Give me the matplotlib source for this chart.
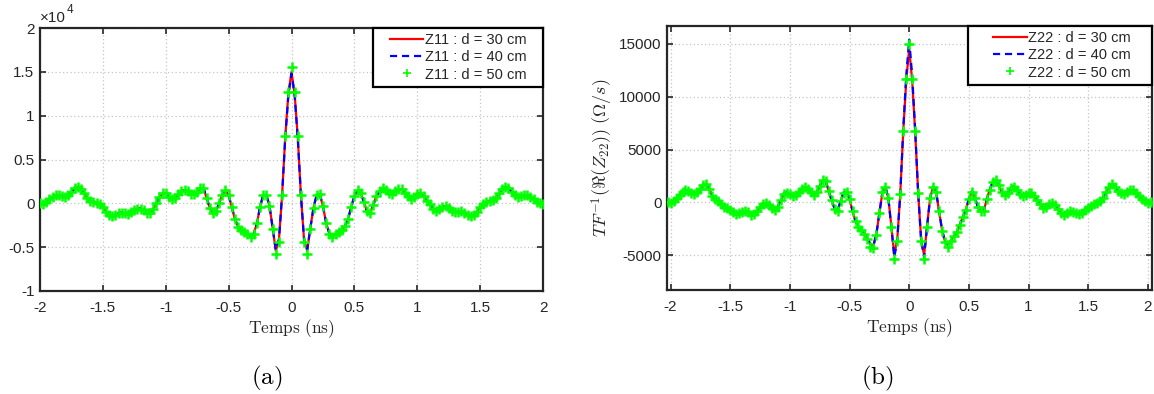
import numpy as np
import matplotlib
matplotlib.use("Agg")
import matplotlib.pyplot as plt
from matplotlib.ticker import FixedLocator, FuncFormatter
from matplotlib.legend_handler import HandlerLine2D
from matplotlib.lines import Line2D

plt.rcParams['font.family'] = ['Liberation Sans', 'DejaVu Sans']
plt.rcParams['mathtext.fontset'] = 'cm'
plt.rcParams['axes.unicode_minus'] = False

# ---------------- data ----------------
# panel (a): time grid -2 .. 2 ns, step 0.025 ns (161 samples)
t_a = np.linspace(-2.0, 2.0, 161)
z11_d30 = [
    0, -50, 100, 450, 700, 900, 950, 850, 750, 1000,
    1300, 1700, 1820, 1600, 1150, 650, 300, 100, 0, -50,
    -400, -950, -1350, -1450, -1300, -1100, -1050, -1150, -1200, -1000,
    -750, -600, -600, -800, -1050, -1100, -700, 0, 700, 1150,
    1150, 750, 450, 650, 1050, 1400, 1520, 1350, 1100, 1060,
    1300, 1700, 1750, 600, -500, -1100, -900, 0, 1000, 1450,
    900, -400, -1800, -2650, -3000, -3250, -3500, -3700, -3450, -2300,
    -400, 950, 950, -300, -2800, -5400, -4200, 900, 7500, 12500,
    15000,
    12500, 7500, 900, -4200, -5400, -2800, -500, 950, 1050, -300,
    -2200, -3400, -3750, -3500, -3250, -3000, -2600, -1800, -400, 800,
    1450, 1200, 200, -900, -1100, -200, 850, 1400, 1700, 1550,
    1200, 1100, 1350, 1650, 1600, 1200, 800, 500, 700, 1100,
    1150, 800, 300, -100, -600, -850, -700, -400, -300, -500,
    -850, -1000, -950, -900, -1050, -1300, -1450, -1350, -950, -400,
    -100, 150, 250, 350, 650, 1150, 1600, 1850, 1750, 1300,
    900, 750, 850, 950, 900, 700, 450, 150, 0, -50]
z11_d40 = [
    0, -50, 100, 450, 700, 900, 950, 850, 750, 1000,
    1300, 1700, 1820, 1600, 1150, 650, 300, 100, 0, -50,
    -400, -950, -1350, -1450, -1300, -1100, -1050, -1150, -1200, -1000,
    -750, -600, -600, -800, -1050, -1100, -700, 0, 700, 1150,
    1150, 750, 450, 650, 1050, 1400, 1520, 1350, 1100, 1060,
    1300, 1700, 1750, 600, -500, -1100, -900, 0, 1000, 1450,
    900, -400, -1800, -2650, -3000, -3250, -3500, -3700, -3450, -2300,
    -400, 950, 950, -300, -2800, -5300, -4100, 900, 7400, 12300,
    14800,
    12300, 7400, 900, -4100, -5300, -2800, -500, 950, 1050, -300,
    -2200, -3400, -3750, -3500, -3250, -3000, -2600, -1800, -400, 800,
    1450, 1200, 200, -900, -1100, -200, 850, 1400, 1700, 1550,
    1200, 1100, 1350, 1650, 1600, 1200, 800, 500, 700, 1100,
    1150, 800, 300, -100, -600, -850, -700, -400, -300, -500,
    -850, -1000, -950, -900, -1050, -1300, -1450, -1350, -950, -400,
    -100, 150, 250, 350, 650, 1150, 1600, 1850, 1750, 1300,
    900, 750, 850, 950, 900, 700, 450, 150, 0, -50]
z11_d50 = [
    0, -50, 100, 450, 700, 900, 950, 850, 750, 1000,
    1300, 1700, 1850, 1600, 1150, 650, 300, 100, 0, -50,
    -400, -950, -1350, -1500, -1300, -1100, -1050, -1150, -1200, -1000,
    -750, -600, -600, -800, -1050, -1100, -700, 0, 700, 1200,
    1150, 750, 450, 650, 1050, 1400, 1550, 1350, 1100, 1060,
    1300, 1700, 1800, 600, -500, -1150, -900, 0, 1000, 1500,
    900, -400, -1800, -2650, -3000, -3250, -3550, -3850, -3500, -2300,
    -400, 1000, 1000, -300, -2900, -5800, -4400, 900, 7700, 12700,
    15500,
    12700, 7700, 900, -4400, -5800, -2900, -500, 1000, 1100, -300,
    -2200, -3500, -3850, -3550, -3250, -3000, -2600, -1800, -400, 800,
    1500, 1200, 200, -900, -1150, -200, 850, 1400, 1750, 1550,
    1200, 1100, 1350, 1650, 1600, 1200, 800, 500, 700, 1100,
    1200, 800, 300, -100, -600, -850, -700, -400, -300, -500,
    -850, -1000, -950, -900, -1050, -1300, -1500, -1350, -950, -400,
    -100, 150, 250, 350, 650, 1150, 1600, 1880, 1750, 1300,
    900, 750, 850, 950, 900, 700, 450, 150, 0, -50]

# panel (b): time grid -2.05 .. 2.05 ns, step 0.025 ns (165 samples)
t_b = np.linspace(-2.05, 2.05, 165)
z22_d30 = [
    0, 0, 0, 150, 400, 700, 1000, 1150, 1050, 850,
    800, 950, 1250, 1600, 1650, 1300, 600, 300, 100, -200,
    -400, -550, -700, -900, -1100, -1050, -900, -850, -950, -1150,
    -1100, -800, -450, -150, -60, -250, -550, -690, -400, 200,
    800, 900, 750, 630, 700, 950, 1250, 1450, 1300, 950,
    730, 1000, 1550, 2100, 2000, 1100, 200, -600, -800, 100,
    850, 950, 300, -800, -1800, -2300, -2600, -2900, -3400, -4000,
    -4100, -3000, -1000, 900, 1450, 400, -2200, -5000, -3500, 800,
    6700, 11500,
    14600,
    11500, 6700, 900, -3500, -5000, -2200, 400, 1450, 1000, -800,
    -2600, -3700, -4000, -3600, -3200, -2800, -2100, -1400, -700, 300,
    950, 400, -400, -800, -800, 300, 1200, 1900, 2100, 1600,
    1000, 650, 900, 1350, 1500, 1200, 800, 600, 650, 850,
    850, 600, 200, -200, -500, -450, -150, -50, -250, -650,
    -1000, -1150, -1000, -850, -900, -1050, -1100, -1000, -750, -550,
    -350, -200, -50, 100, 450, 1000, 1450, 1680, 1500, 1100,
    850, 800, 1000, 1180, 1150, 900, 600, 300, 100, 0,
    0, 0]
z22_d40 = [
    0, 0, 0, 150, 400, 700, 1000, 1150, 1050, 850,
    800, 950, 1250, 1600, 1650, 1300, 600, 300, 100, -200,
    -400, -550, -700, -900, -1100, -1050, -900, -850, -950, -1150,
    -1100, -800, -450, -150, -60, -250, -550, -690, -400, 250,
    850, 950, 750, 630, 700, 950, 1250, 1450, 1300, 950,
    730, 1000, 1550, 2100, 2000, 1100, 200, -600, -800, 150,
    950, 1050, 350, -800, -1800, -2300, -2600, -2900, -3400, -4000,
    -4100, -3000, -1000, 950, 1500, 400, -2300, -5200, -3600, 800,
    6900, 12000,
    15400,
    12000, 6900, 900, -3600, -5200, -2300, 400, 1500, 1050, -800,
    -2600, -3700, -4000, -3600, -3200, -2800, -2100, -1400, -700, 350,
    1050, 450, -400, -800, -800, 300, 1200, 1900, 2100, 1600,
    1000, 650, 900, 1350, 1500, 1200, 800, 600, 650, 850,
    850, 600, 200, -200, -500, -450, -150, -50, -250, -650,
    -1000, -1150, -1000, -850, -900, -1050, -1100, -1000, -750, -550,
    -350, -200, -50, 100, 450, 1000, 1450, 1680, 1500, 1100,
    850, 800, 1000, 1180, 1150, 900, 600, 300, 100, 0,
    0, 0]
z22_d50 = [
    0, 0, -100, 100, 400, 700, 1000, 1150, 1050, 850,
    800, 950, 1250, 1600, 1700, 1300, 600, 300, 100, -200,
    -400, -550, -700, -900, -1150, -1050, -900, -850, -950, -1200,
    -1100, -800, -450, -150, -60, -250, -550, -700, -400, 200,
    800, 900, 750, 630, 700, 950, 1250, 1450, 1300, 950,
    730, 1000, 1550, 2150, 2000, 1100, 200, -600, -850, 100,
    850, 950, 300, -800, -1800, -2300, -2600, -2950, -3500, -4200,
    -4300, -3100, -1000, 950, 1500, 400, -2300, -5400, -3700, 800,
    6800, 11700,
    15000,
    11700, 6800, 900, -3700, -5400, -2300, 400, 1500, 1000, -800,
    -2700, -3800, -4200, -3700, -3200, -2800, -2100, -1400, -700, 300,
    950, 400, -400, -850, -850, 300, 1200, 1900, 2150, 1600,
    1000, 650, 900, 1350, 1500, 1200, 800, 600, 650, 850,
    850, 600, 200, -200, -500, -450, -150, -50, -250, -650,
    -1000, -1200, -1000, -850, -900, -1050, -1150, -1000, -750, -550,
    -350, -200, -50, 100, 450, 1000, 1450, 1700, 1500, 1100,
    850, 800, 1000, 1180, 1150, 900, 600, 300, 100, -100,
    0, 0]

labels_a = ["Z11 : d = 30 cm", "Z11 : d = 40 cm", "Z11 : d = 50 cm"]
labels_b = ["Z22 : d = 30 cm", "Z22 : d = 40 cm", "Z22 : d = 50 cm"]
xticks = [-2, -1.5, -1, -0.5, 0, 0.5, 1, 1.5, 2]
yticks_a = [-10000, -5000, 0, 5000, 10000, 15000, 20000]
yticks_b = [-5000, 0, 5000, 10000, 15000]

# ---------------- figure ----------------
W, H = 1154, 394
fig = plt.figure(figsize=(W / 100, H / 100), dpi=100)

def fx(px):
    return px / W

def fy(py):
    return 1 - py / H

ax_a = fig.add_axes([fx(40), fy(291), fx(543) - fx(40), fy(28) - fy(291)])
ax_b = fig.add_axes([fx(667), fy(290), fx(1152) - fx(667), fy(26) - fy(290)])

dark = '#262626'
TICK_FS = 11

def fmt_num(v, pos=None):
    return '%g' % v

def style(ax):
    ax.grid(True, linestyle=(0, (1, 2)), color='#c4c4c4', linewidth=0.9)
    ax.set_axisbelow(True)
    for sp in ax.spines.values():
        sp.set_linewidth(1.6)
        sp.set_color(dark)
    ax.tick_params(direction='in', top=True, right=True, length=4,
                   width=1.2, color=dark, labelcolor=dark,
                   labelsize=TICK_FS)
    ax.tick_params(axis='x', pad=7)
    ax.tick_params(axis='y', pad=4)
    ax.xaxis.set_major_locator(FixedLocator(xticks))
    ax.xaxis.set_major_formatter(FuncFormatter(fmt_num))
    ax.set_xlabel(r'$\mathrm{Temps\ (ns)}$', fontsize=12.5, color=dark,
                  labelpad=2)

def draw(ax, t, s1, s2, s3, labels, box_x0, pad_l, line_l):
    ax.plot(t, s1, color='#ff0000', linewidth=1.6, label=labels[0], zorder=3)
    ax.plot(t, s2, color='#0000ff', linewidth=1.6, linestyle=(0, (3.2, 2.2)),
            label=labels[1], zorder=4)
    ax.plot(t, s3, color='#00ff00', linestyle='none', marker='+',
            markersize=7, markeredgewidth=1.8, label=labels[2], zorder=5)
    fs = 10.5
    fs_px = fs * 100 / 72.0
    hl = (pad_l + line_l) / fs_px
    handler = HandlerLine2D(xpad=pad_l / fs_px)
    leg = ax.legend(loc='upper right', bbox_to_anchor=(box_x0, 0, 1 - box_x0, 1),
                    mode='expand', borderaxespad=0, fontsize=fs,
                    handlelength=hl, handletextpad=0.12, borderpad=0.35,
                    labelspacing=0.22, fancybox=False, framealpha=1,
                    edgecolor='black', handler_map={Line2D: handler})
    leg.get_frame().set_linewidth(1.6)
    for line in leg.get_lines():
        if line.get_marker() == '+':
            line.set_markersize(6)
            line.set_markeredgewidth(1.2)
    for txt in leg.get_texts():
        txt.set_color(dark)

# panel (a)
draw(ax_a, t_a, z11_d30, z11_d40, z11_d50, labels_a,
     (373 - 40) / 503.0, 12, 33)
style(ax_a)
ax_a.set_xlim(-2, 2)
ax_a.set_ylim(-10000, 20000)
ax_a.yaxis.set_major_locator(FixedLocator(yticks_a))
ax_a.yaxis.set_major_formatter(FuncFormatter(lambda v, p: fmt_num(v / 10000)))
t10 = ax_a.text(0.0, 1.01, '\u00d710', transform=ax_a.transAxes,
                fontsize=TICK_FS, color=dark, ha='left', va='bottom')
fig.canvas.draw()
bb = t10.get_window_extent(renderer=fig.canvas.get_renderer())
fig.text(bb.x1 / W + 0.0005, (bb.y1 - 5) / H, '4', fontsize=8.5,
         color=dark, ha='left', va='bottom')

# panel (b)
draw(ax_b, t_b, z22_d30, z22_d40, z22_d50, labels_b,
     (967.5 - 667) / 485.0, 20, 34)
style(ax_b)
ax_b.set_xlim(-2.03, 2.035)
ax_b.set_ylim(-8300, 16700)
ax_b.yaxis.set_major_locator(FixedLocator(yticks_b))
ax_b.yaxis.set_major_formatter(FuncFormatter(fmt_num))
ax_b.set_ylabel(r'$TF^{-1}(\Re(Z_{22}))\ (\Omega/s)$', fontsize=13,
                color=dark, labelpad=3)

# sub-captions
fig.text(fx(267), fy(378), r'$\mathrm{(a)}$', fontsize=18, ha='center',
         va='center', color='black')
fig.text(fx(877), fy(378), r'$\mathrm{(b)}$', fontsize=18, ha='center',
         va='center', color='black')

fig.savefig('out.png', dpi=100)
